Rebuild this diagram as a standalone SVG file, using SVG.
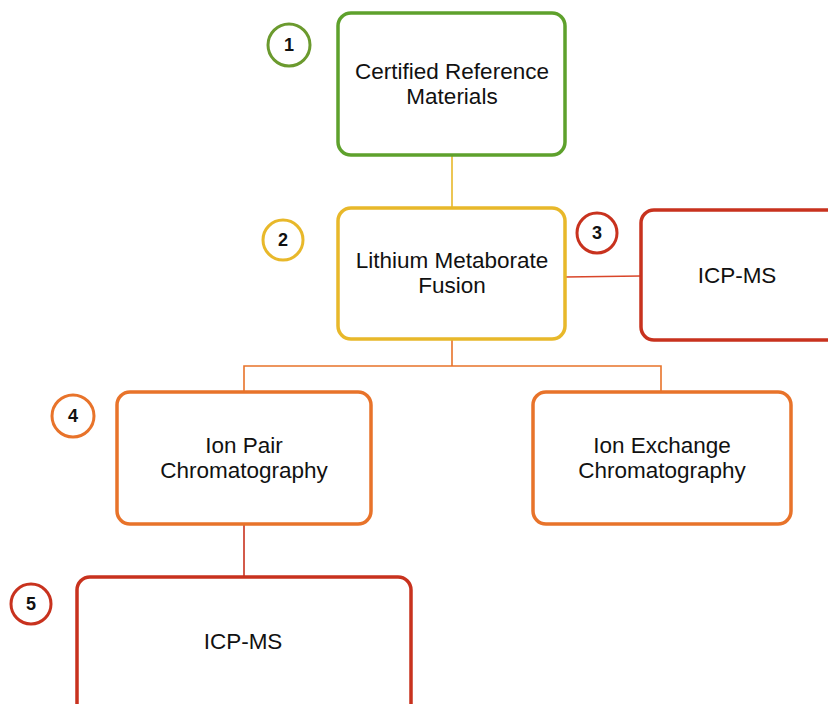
<svg xmlns="http://www.w3.org/2000/svg" width="828" height="704" viewBox="0 0 828 704">
<style>
.box{fill:#fff;stroke-width:3.5}
.num{fill:#fff;stroke-width:3}
.t{font-family:"Liberation Sans",Arial,sans-serif;font-size:22.5px;fill:#111;text-anchor:middle}
.n{font-family:"Liberation Sans",Arial,sans-serif;font-size:18px;font-weight:bold;fill:#111;text-anchor:middle}
.g{stroke:#5ea12c}.y{stroke:#e8b82a}.o{stroke:#e8732a}.r{stroke:#c8321e}
.c{fill:none;stroke-width:1.6}
</style>
<rect width="828" height="704" fill="#fff"/>
<g id="connectors">
<line class="c" x1="452" y1="155" x2="452" y2="208" stroke="#e8b82a"/>
<line class="c" x1="565" y1="277" x2="641" y2="276" stroke="#d9462a"/>
<path class="c" d="M452 339 V366 M244 392 V366 H661 V392" stroke="#e8732a"/>
<line class="c" x1="244" y1="524" x2="244" y2="577" stroke="#c8321e"/>
</g>
<g id="n1"><rect class="box g" x="338" y="13" width="227" height="142" rx="13"/>
<text class="t" x="452" y="79">Certified Reference</text><text class="t" x="452" y="104">Materials</text></g>
<g id="c1"><circle class="num" cx="289" cy="45" r="21" stroke="#6b9a2e"/><text class="n" x="289" y="51">1</text></g>
<g id="n2"><rect class="box y" x="338" y="208" width="227" height="131" rx="13"/>
<text class="t" x="452" y="268">Lithium Metaborate</text><text class="t" x="452" y="293">Fusion</text></g>
<g id="c2"><circle class="num y" cx="283" cy="240" r="20"/><text class="n" x="283" y="246">2</text></g>
<g id="c3"><circle class="num r" cx="597" cy="233" r="20"/><text class="n" x="597" y="239">3</text></g>
<g id="n3"><rect class="box r" x="641" y="210" width="200" height="130" rx="13"/>
<text class="t" x="737" y="283">ICP-MS</text></g>
<g id="n4"><rect class="box o" x="117" y="392" width="254" height="132" rx="13"/>
<text class="t" x="244" y="453">Ion Pair</text><text class="t" x="244" y="478">Chromatography</text></g>
<g id="c4"><circle class="num o" cx="73" cy="416" r="21"/><text class="n" x="73" y="422">4</text></g>
<g id="n5"><rect class="box o" x="533" y="392" width="258" height="132" rx="13"/>
<text class="t" x="662" y="453">Ion Exchange</text><text class="t" x="662" y="478">Chromatography</text></g>
<g id="n6"><rect class="box r" x="77" y="577" width="334" height="140" rx="13"/>
<text class="t" x="243" y="649">ICP-MS</text></g>
<g id="c5"><circle class="num r" cx="31" cy="604" r="20"/><text class="n" x="31" y="610">5</text></g>
</svg>
